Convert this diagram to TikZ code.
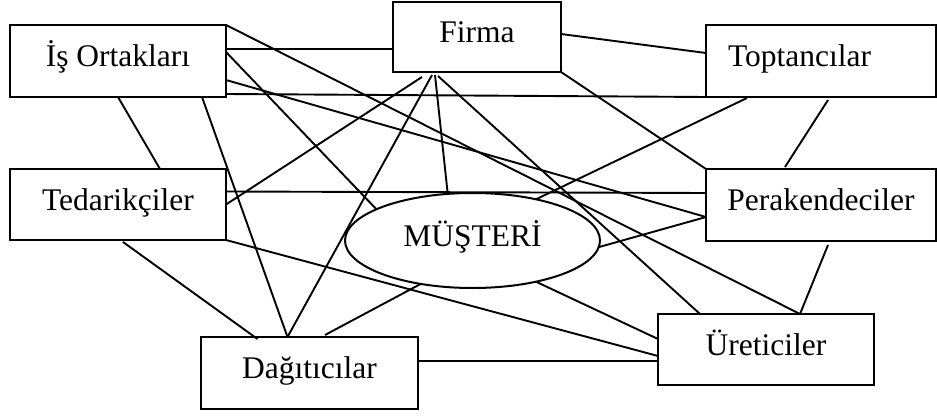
\documentclass[tikz,border=0pt]{standalone}
\usepackage{fontspec}
\setmainfont{Liberation Serif}
\usetikzlibrary{calc,shapes.geometric}
\begin{document}
\begin{tikzpicture}[x=1pt,y=-1pt,
  every node/.style={font=\fontsize{31.5}{36}\selectfont, inner sep=0pt, outer sep=0pt,
    text height=22pt, text depth=10.5pt},
  box/.style={draw, rectangle, line width=2pt},
  oval/.style={draw, ellipse, line width=2pt},
  link/.style={line width=1.9pt}]
\useasboundingbox (0,0) rectangle (937,417);

% actors
\node[box, minimum width=216pt, minimum height=72pt] (iso) at (118,61) {İş Ortakları};
\node[box, minimum width=168pt, minimum height=70pt] (firma) at (477,37) {Firma};
\node[box, minimum width=230pt, minimum height=72pt, text width=186pt, align=left,
      inner xsep=22pt] (toptanci) at (821,61) {Toptancılar};
\node[box, minimum width=230pt, minimum height=72pt] (perak) at (821,205) {Perakendeciler};
\node[box, minimum width=216pt, minimum height=71pt] (tedarik) at (118,204.5) {Tedarikçiler};
\node[box, minimum width=217pt, minimum height=72pt] (dagitici) at (309.5,373) {Dağıtıcılar};
\node[box, minimum width=216pt, minimum height=71pt] (uretici) at (766,349.5) {Üreticiler};
\node[oval, minimum width=255pt, minimum height=95pt] (musteri) at (472.5,240.5) {MÜŞTERİ};

% relations
\draw[link] ($(iso.east)+(0,-12)$) -- ($(firma.west)+(0,12)$);
\draw[link] (iso.north east) -- ($(uretici.north)+(34,0)$);
\draw[link] ($(iso.east)+(0,-9)$) -- (musteri.162.6);
\draw[link] ($(iso.east)+(0,19)$) -- ($(perak.west)+(0,12)$);
\draw[link] ($(iso.south east)+(0,-3)$) -- (toptanci.south west);
\draw[link] (iso.south) -- ($(tedarik.north)+(42,0)$);
\draw[link] ($(iso.south east)+(-24,0)$) -- ($(dagitici.north)+(-22,0)$);

\draw[link] ($(firma.east)+(0,-3)$) -- ($(toptanci.west)+(0,-8)$);
\draw[link] (firma.south east) -- (perak.north west);
\draw[link] ($(firma.south)+(-55,5)$) -- (tedarik.east);
\draw[link] ($(firma.south)+(-45,3)$) -- ($(dagitici.north)+(-22,0)$);
\draw[link] ($(firma.south)+(-42,3)$) -- (musteri.118.2);
\draw[link] ($(firma.south)+(-39,4)$) -- ($(uretici.north west)+(42,0)$);

\draw[link] (musteri.33) -- ($(toptanci.south west)+(41,1)$);
\draw[link] ($(tedarik.east)+(0,-13)$) -- ($(perak.west)+(0,-12)$);
\draw[link] (musteri.-3) -- ($(perak.west)+(0,12)$);
\draw[link] ($(toptanci.south)+(7,3)$) -- ($(perak.north)+(-36,-2)$);
\draw[link] ($(perak.south)+(7,4)$) -- ($(uretici.north)+(34,0)$);

\draw[link] ($(tedarik.south)+(5,2)$) -- ($(dagitici.north)+(-52,2)$);
\draw[link] (musteri.220.3) -- ($(dagitici.north)+(15.5,-2)$);
\draw[link] (tedarik.south east) -- ($(uretici.west)+(0,6.5)$);
\draw[link] (musteri.-33) -- ($(uretici.west)+(0,-10.5)$);
\draw[link] ($(dagitici.east)+(0,-12)$) -- ($(uretici.west)+(0,11.5)$);
\end{tikzpicture}
\end{document}
